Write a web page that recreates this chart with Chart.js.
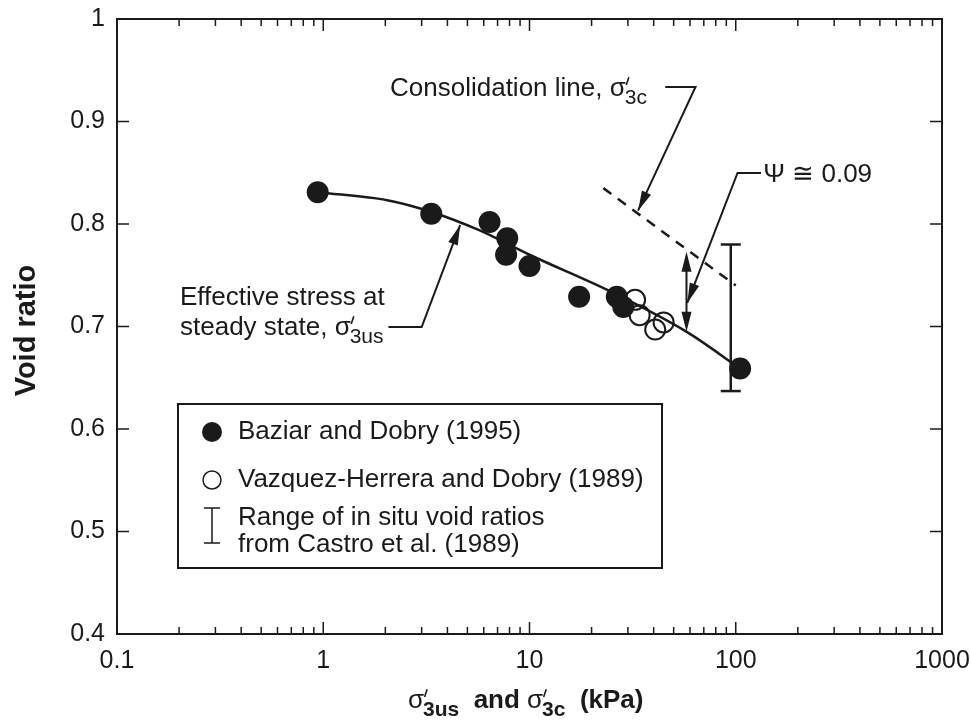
<!DOCTYPE html>
<html>
<head>
<meta charset="utf-8">
<script src="https://cdn.jsdelivr.net/npm/chart.js@4.4.0/dist/chart.umd.min.js"></script>
<style>
  html, body { margin: 0; padding: 0; background: #fff; }
</style>
</head>
<body>
<canvas id="graficoVoid" width="971" height="728"></canvas>
<script>
// data
const bazX = [0.94, 3.34, 6.4, 7.8, 7.7, 10.0, 17.4, 26.5, 28.5, 105];
const bazY = [0.831, 0.810, 0.802, 0.786, 0.770, 0.759, 0.729, 0.729, 0.719, 0.659];
const vazX = [32.5, 34.2, 40.7, 44.7];
const vazY = [0.726, 0.711, 0.697, 0.704];
const curveX = [0.94, 2.07, 3.32, 5.7, 10.0, 25.4, 57.6, 105];
const curveY = [0.831, 0.823, 0.812, 0.794, 0.770, 0.733, 0.695, 0.659];
const consolX = [22.8, 100];
const consolY = [0.835, 0.740];
const rangeX = [94.6, 94.6];
const rangeY = [0.637, 0.780];
const psiX = [57.7, 57.7];
const psiY = [0.695, 0.773];
const xTicks = [0.1, 1, 10, 100, 1000];
const xTickLabels = ['0.1', '1', '10', '100', '1000'];
const yTicks = [0.4, 0.5, 0.6, 0.7, 0.8, 0.9, 1.0];
const yTickLabels = ['0.4', '0.5', '0.6', '0.7', '0.8', '0.9', '1'];
const minorMult = [2, 3, 4, 5, 6, 7, 8, 9];

const FONT = '"Liberation Sans", Arial, Helvetica, sans-serif';
const INK = '#1a1a1a';

function pts(xs, ys) {
  return xs.map((x, i) => ({ x: x, y: ys[i] }));
}

function arrowHead(ctx, x0, y0, x1, y1, len, half) {
  // filled head at (x1,y1) pointing from (x0,y0)
  const a = Math.atan2(y1 - y0, x1 - x0);
  ctx.beginPath();
  ctx.moveTo(x1, y1);
  ctx.lineTo(x1 - len * Math.cos(a) + half * Math.sin(a), y1 - len * Math.sin(a) - half * Math.cos(a));
  ctx.lineTo(x1 - len * Math.cos(a) - half * Math.sin(a), y1 - len * Math.sin(a) + half * Math.cos(a));
  ctx.closePath();
  ctx.fill();
}

// sigma with prime and subscript, returns x after it
function drawSigma(ctx, x, y, sub, size, subWeight) {
  ctx.textAlign = 'left';
  ctx.textBaseline = 'alphabetic';
  ctx.font = `normal ${size}px ${FONT}`;
  ctx.fillText('σ', x, y);
  x += ctx.measureText('σ').width;
  // prime
  ctx.save();
  ctx.lineWidth = 1.6;
  ctx.beginPath();
  ctx.moveTo(x + size * 0.12, y - size * 0.72);
  ctx.lineTo(x + size * 0.02, y - size * 0.42);
  ctx.stroke();
  ctx.restore();
  const s2 = Math.round(size * 0.8);
  ctx.font = `${subWeight} ${s2}px ${FONT}`;
  ctx.fillText(sub, x - size * 0.04, y + size * 0.3);
  return x - size * 0.04 + ctx.measureText(sub).width;
}

const extras = {
  id: 'extras',
  afterDraw(chart) {
    const ctx = chart.ctx;
    const a = chart.chartArea;
    const sx = chart.scales.x, sy = chart.scales.y;
    const px = v => sx.getPixelForValue(v);
    const py = v => sy.getPixelForValue(v);
    ctx.save();
    ctx.strokeStyle = INK;
    ctx.fillStyle = INK;

    // frame
    ctx.lineWidth = 2;
    ctx.strokeRect(a.left, a.top, a.right - a.left, a.bottom - a.top);

    // inward ticks, all four sides
    ctx.lineWidth = 1.5;
    ctx.beginPath();
    yTicks.forEach(v => {
      const y = py(v);
      ctx.moveTo(a.left, y); ctx.lineTo(a.left + 12, y);
      ctx.moveTo(a.right, y); ctx.lineTo(a.right - 12, y);
    });
    xTicks.forEach((v, i) => {
      const x = px(v);
      ctx.moveTo(x, a.bottom); ctx.lineTo(x, a.bottom - 12);
      ctx.moveTo(x, a.top); ctx.lineTo(x, a.top + 12);
      if (i < xTicks.length - 1) {
        minorMult.forEach(m => {
          const xm = px(v * m);
          ctx.moveTo(xm, a.bottom); ctx.lineTo(xm, a.bottom - 7);
          ctx.moveTo(xm, a.top); ctx.lineTo(xm, a.top + 7);
        });
      }
    });
    ctx.stroke();

    // axis titles
    ctx.save();
    ctx.translate(27, (a.top + a.bottom) / 2 + 4);
    ctx.rotate(-Math.PI / 2);
    ctx.font = `bold 29px ${FONT}`;
    ctx.textAlign = 'center';
    ctx.textBaseline = 'middle';
    ctx.fillText('Void ratio', 0, 0);
    ctx.restore();

    ctx.lineWidth = 1.6;
    let tx = 408, ty = 708;
    tx = drawSigma(ctx, tx, ty, '3us', 26, 'bold');
    ctx.font = `bold 26px ${FONT}`;
    ctx.fillText('  and ', tx, ty);
    tx += ctx.measureText('  and ').width;
    tx = drawSigma(ctx, tx, ty, '3c', 26, 'bold');
    ctx.font = `bold 26px ${FONT}`;
    ctx.fillText('  (kPa)', tx, ty);

    // consolidation line label + leader
    const cy = py(0.9337);
    ctx.font = `26px ${FONT}`;
    let lx = 390, ly = cy + 9;
    ctx.fillText('Consolidation line, ', lx, ly);
    lx += ctx.measureText('Consolidation line, ').width;
    drawSigma(ctx, lx, ly, '3c', 26, 'normal');
    ctx.lineWidth = 2;
    ctx.beginPath();
    ctx.moveTo(px(45.5), cy);
    ctx.lineTo(px(63.8), cy);
    ctx.lineTo(px(33.6), py(0.813));
    ctx.stroke();
    arrowHead(ctx, px(63.8), cy, px(33.6), py(0.813), 20, 5);

    // psi label + leader
    const pyl = py(0.8498);
    ctx.font = `26px ${FONT}`;
    ctx.textAlign = 'left';
    ctx.textBaseline = 'alphabetic';
    ctx.fillText('Ψ ≅ 0.09', px(136), pyl + 9);
    ctx.beginPath();
    ctx.moveTo(px(132.5), pyl);
    ctx.lineTo(px(102), pyl);
    ctx.lineTo(px(58.2), py(0.723));
    ctx.stroke();
    arrowHead(ctx, px(102), pyl, px(58.2), py(0.723), 20, 5);

    // effective stress label + leader
    const ly2 = py(0.6995);
    ctx.font = `26px ${FONT}`;
    ctx.fillText('Effective stress at', 180, ly2 - 22);
    let ex = 180;
    ctx.fillText('steady state, ', ex, ly2 + 8);
    ex += ctx.measureText('steady state, ').width;
    drawSigma(ctx, ex, ly2 + 8, '3us', 26, 'normal');
    ctx.lineWidth = 2;
    ctx.beginPath();
    ctx.moveTo(px(2.07), ly2);
    ctx.lineTo(px(3.0), ly2);
    ctx.lineTo(px(4.61), py(0.799));
    ctx.stroke();
    arrowHead(ctx, px(3.0), ly2, px(4.61), py(0.799), 20, 5);

    // psi double arrow between the two lines
    const ax = px(psiX[0]);
    const yb = py(psiY[0]), yt = py(psiY[1]);
    ctx.beginPath();
    ctx.moveTo(ax, yb - 15);
    ctx.lineTo(ax, yt + 15);
    ctx.stroke();
    arrowHead(ctx, ax, yt + 20, ax, yb, 20, 5);
    arrowHead(ctx, ax, yb - 20, ax, yt, 20, 5);

    // legend box
    const bx = 178, by = 404, bw = 484, bh = 164;
    ctx.lineWidth = 2;
    ctx.strokeRect(bx, by, bw, bh);
    ctx.font = `26px ${FONT}`;
    ctx.textBaseline = 'middle';
    ctx.beginPath();
    ctx.arc(212, 432, 10, 0, Math.PI * 2);
    ctx.fill();
    ctx.fillText('Baziar and Dobry (1995)', 238, 432);
    ctx.lineWidth = 1.5;
    ctx.beginPath();
    ctx.arc(212, 480, 9, 0, Math.PI * 2);
    ctx.stroke();
    ctx.fillText('Vazquez-Herrera and Dobry (1989)', 238, 480);
    ctx.beginPath();
    ctx.moveTo(212, 508); ctx.lineTo(212, 543);
    ctx.moveTo(204, 508); ctx.lineTo(220, 508);
    ctx.moveTo(204, 543); ctx.lineTo(220, 543);
    ctx.stroke();
    ctx.fillText('Range of in situ void ratios', 238, 518);
    ctx.fillText('from Castro et al. (1989)', 238, 545);

    ctx.restore();
  }
};

const ctx = document.getElementById('graficoVoid').getContext('2d');
window.grafico = new Chart(ctx, {
  type: 'scatter',
  data: {
    datasets: [
      {
        label: 'Baziar and Dobry (1995)',
        data: pts(bazX, bazY),
        pointRadius: 11,
        pointHoverRadius: 11,
        pointBackgroundColor: INK,
        pointBorderColor: INK,
        pointBorderWidth: 0
      },
      {
        label: 'Vazquez-Herrera and Dobry (1989)',
        data: pts(vazX, vazY),
        pointRadius: 10,
        pointBackgroundColor: 'rgba(0,0,0,0)',
        pointBorderColor: INK,
        pointBorderWidth: 2
      },
      {
        label: 'steady state',
        data: pts(curveX, curveY),
        showLine: true,
        pointRadius: 0,
        borderColor: INK,
        borderWidth: 2.5,
        cubicInterpolationMode: 'monotone'
      },
      {
        label: 'consolidation',
        data: pts(consolX, consolY),
        showLine: true,
        pointRadius: 0,
        borderColor: INK,
        borderWidth: 2.5,
        borderDash: [10, 8]
      },
      {
        label: 'in situ range',
        data: pts(rangeX, rangeY),
        showLine: true,
        borderColor: INK,
        borderWidth: 2.5,
        pointStyle: 'line',
        pointRadius: 10,
        pointBorderColor: INK,
        pointBorderWidth: 2.5
      }
    ]
  },
  options: {
    responsive: false,
    animation: false,
    devicePixelRatio: 1,
    layout: { padding: { top: 19, right: 29, left: 0, bottom: 0 } },
    plugins: {
      legend: { display: false },
      tooltip: { enabled: false }
    },
    scales: {
      x: {
        type: 'logarithmic',
        min: 0.1,
        max: 1000,
        afterFit: s => { s.height = 94; s.paddingLeft = 0; s.paddingRight = 0; },
        afterBuildTicks: s => { s.ticks = xTicks.map(v => ({ value: v })); },
        grid: { display: false, drawTicks: false },
        border: { display: false },
        ticks: {
          autoSkip: false,
          maxRotation: 0,
          padding: 12,
          color: INK,
          font: { family: FONT, size: 25 },
          callback: (v) => xTickLabels[xTicks.indexOf(v)] ?? ''
        }
      },
      y: {
        type: 'linear',
        min: 0.4,
        max: 1.0,
        afterFit: s => { s.width = 117; s.paddingTop = 0; s.paddingBottom = 0; },
        afterBuildTicks: s => { s.ticks = yTicks.map(v => ({ value: v })); },
        grid: { display: false, drawTicks: false },
        border: { display: false },
        ticks: {
          autoSkip: false,
          padding: 12,
          color: INK,
          font: { family: FONT, size: 25 },
          callback: (v) => yTickLabels[yTicks.indexOf(v)] ?? ''
        }
      }
    }
  },
  plugins: [extras]
});
</script>
</body>
</html>
